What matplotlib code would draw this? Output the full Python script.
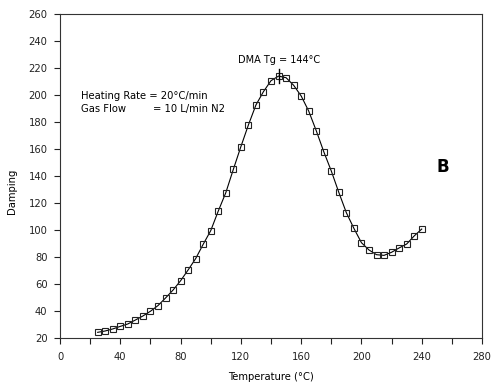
import numpy as np
import matplotlib.pyplot as plt
from matplotlib.ticker import MultipleLocator

# temperature (C) and damping values
temperature = list(range(25, 245, 5))
damping = [
    24.2, 25.2, 26.7, 28.6, 30.4, 33.3, 36.3, 39.8, 44.0, 49.6,
    55.5, 62.4, 70.4, 78.8, 89.4, 99.5, 114.0, 127.6, 144.9, 161.7,
    177.8, 192.6, 202.5, 210.6, 214.0, 212.8, 207.2, 199.3, 188.1, 173.6,
    158.0, 143.7, 127.8, 112.8, 101.2, 90.6, 85.2, 81.7, 81.2, 83.5,
    86.7, 89.6, 95.6, 100.7,
]
tg = 144

plt.rcParams["font.family"] = ["DejaVu Sans"]
FS = 7.2

fig = plt.figure(figsize=(4.91, 3.82), dpi=100)
ax = fig.add_axes([0.1222, 0.1152, 0.8595, 0.8482])

ax.plot(temperature, damping, color="black", linewidth=0.8,
        marker="s", markersize=5, markerfacecolor="none",
        markeredgecolor="#222222", markeredgewidth=0.8)

# Tg marker
ax.plot([tg + 1, tg + 1], [209, 219], color="black", linewidth=1.0)
ax.text(tg + 1.5, 222, "DMA Tg = 144°C", ha="center", va="bottom", fontsize=7)

ax.text(14, 199, "Heating Rate = 20°C/min", ha="left", va="center", fontsize=FS)
ax.text(14, 189.5, "Gas Flow", ha="left", va="center", fontsize=FS)
ax.text(61.5, 189.5, "= 10 L/min N2", ha="left", va="center", fontsize=FS)
ax.text(254, 147, "B", ha="center", va="center", fontsize=12, fontweight="bold")

ax.set_xlim(0, 280)
ax.set_ylim(20, 260)
ax.xaxis.set_major_locator(MultipleLocator(40))
ax.xaxis.set_minor_locator(MultipleLocator(20))
ax.yaxis.set_major_locator(MultipleLocator(20))
ax.tick_params(axis="both", which="both", direction="out", length=4,
               width=0.8, labelsize=FS, colors="#222222")
ax.tick_params(axis="x", pad=6)
ax.tick_params(axis="y", pad=5)

for s in ax.spines.values():
    s.set_linewidth(0.8)
    s.set_color("#333333")

ax.set_xlabel("Temperature (°C)", fontsize=FS, labelpad=7)
ax.set_ylabel("Damping", fontsize=FS)
ax.yaxis.set_label_coords(-0.102, 0.454)

fig.savefig("out.png", dpi=100, facecolor="white")
